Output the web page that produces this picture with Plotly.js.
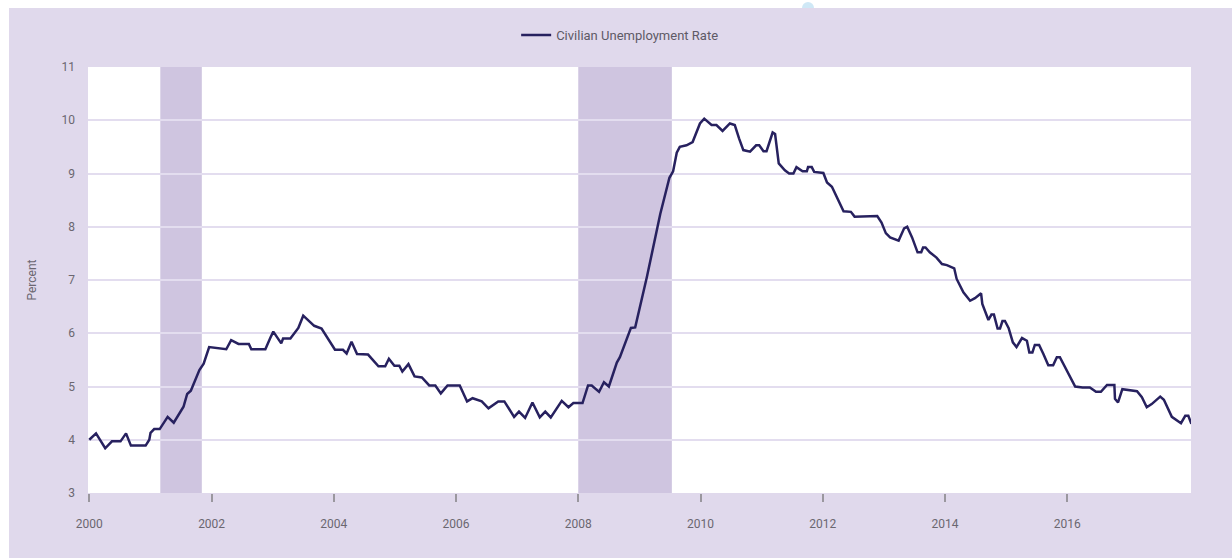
<!DOCTYPE html>
<html>
<head>
<meta charset="utf-8">
<script src="https://cdn.plot.ly/plotly-3.0.1.min.js"></script>
<style>
  html, body { margin: 0; padding: 0; background: #ffffff; width: 1232px; height: 558px; overflow: hidden; }
  #dot { position: absolute; left: 802px; top: 2px; width: 12px; height: 12px; border-radius: 50%; background: #cfe8f6; z-index: 0; }
  #chart { position: absolute; left: 9px; top: 8px; width: 1223px; height: 550px; z-index: 1; }
</style>
</head>
<body>
<div id="dot"></div>
<div id="chart"></div>
<script>
// Decimal-year positions of the line vertices
const years = [
  2000.00, 2000.11, 2000.26, 2000.37, 2000.51, 2000.60, 2000.68, 2000.92, 2000.98, 2001.00,
  2001.06, 2001.15, 2001.28, 2001.38, 2001.54, 2001.60, 2001.66, 2001.80, 2001.87, 2001.96,
  2002.24, 2002.32, 2002.44, 2002.61, 2002.65, 2002.88, 2002.96, 2003.01, 2003.14, 2003.17,
  2003.29, 2003.42, 2003.50, 2003.68, 2003.80, 2004.02, 2004.15, 2004.21, 2004.29, 2004.38,
  2004.56, 2004.73, 2004.84, 2004.90, 2004.99, 2005.07, 2005.12, 2005.22, 2005.32, 2005.44,
  2005.56, 2005.66, 2005.75, 2005.86, 2006.06, 2006.18, 2006.27, 2006.42, 2006.53, 2006.69,
  2006.79, 2006.95, 2007.03, 2007.13, 2007.25, 2007.37, 2007.46, 2007.55, 2007.73, 2007.84,
  2007.92, 2008.07, 2008.16, 2008.22, 2008.34, 2008.42, 2008.50, 2008.63, 2008.68, 2008.86,
  2008.93, 2009.12, 2009.34, 2009.49, 2009.55, 2009.61, 2009.66, 2009.77, 2009.87, 2009.99,
  2010.06, 2010.18, 2010.26, 2010.36, 2010.48, 2010.56, 2010.63, 2010.70, 2010.81, 2010.91,
  2010.96, 2011.03, 2011.08, 2011.18, 2011.22, 2011.28, 2011.38, 2011.45, 2011.52, 2011.57,
  2011.67, 2011.74, 2011.76, 2011.82, 2011.86, 2012.01, 2012.07, 2012.15, 2012.34, 2012.46,
  2012.52, 2012.61, 2012.89, 2012.96, 2013.03, 2013.10, 2013.24, 2013.33, 2013.38, 2013.46,
  2013.55, 2013.61, 2013.64, 2013.68, 2013.75, 2013.86, 2013.95, 2014.03, 2014.15, 2014.19,
  2014.30, 2014.41, 2014.49, 2014.59, 2014.61, 2014.71, 2014.76, 2014.80, 2014.86, 2014.90,
  2014.94, 2014.98, 2015.04, 2015.11, 2015.17, 2015.26, 2015.34, 2015.38, 2015.43, 2015.47,
  2015.54, 2015.61, 2015.69, 2015.77, 2015.83, 2015.88, 2016.02, 2016.13, 2016.25, 2016.37,
  2016.47, 2016.55, 2016.65, 2016.77, 2016.78, 2016.83, 2016.90, 2017.01, 2017.14, 2017.22,
  2017.30, 2017.38, 2017.52, 2017.58, 2017.71, 2017.86, 2017.93, 2017.98, 2018.03
];
// Civilian unemployment rate, percent
const rates = [
  4.00, 4.12, 3.84, 3.97, 3.97, 4.12, 3.89, 3.89, 4.00, 4.13,
  4.20, 4.20, 4.43, 4.32, 4.62, 4.86, 4.92, 5.31, 5.43, 5.74,
  5.70, 5.87, 5.80, 5.80, 5.70, 5.70, 5.91, 6.03, 5.81, 5.90,
  5.90, 6.10, 6.33, 6.14, 6.09, 5.69, 5.69, 5.62, 5.84, 5.61,
  5.60, 5.38, 5.38, 5.52, 5.39, 5.39, 5.28, 5.42, 5.19, 5.17,
  5.02, 5.02, 4.87, 5.02, 5.02, 4.72, 4.78, 4.72, 4.59, 4.72,
  4.72, 4.43, 4.53, 4.41, 4.70, 4.42, 4.53, 4.42, 4.73, 4.61,
  4.69, 4.69, 5.02, 5.02, 4.90, 5.08, 5.00, 5.45, 5.55, 6.10,
  6.11, 7.05, 8.24, 8.92, 9.04, 9.39, 9.50, 9.53, 9.59, 9.94,
  10.03, 9.91, 9.91, 9.80, 9.94, 9.91, 9.66, 9.44, 9.41, 9.53,
  9.53, 9.42, 9.42, 9.77, 9.74, 9.19, 9.06, 9.00, 9.00, 9.12,
  9.04, 9.04, 9.12, 9.12, 9.03, 9.01, 8.83, 8.75, 8.29, 8.28,
  8.19, 8.19, 8.20, 8.08, 7.88, 7.80, 7.74, 7.97, 8.00, 7.80,
  7.52, 7.52, 7.61, 7.61, 7.52, 7.42, 7.30, 7.28, 7.22, 7.02,
  6.77, 6.61, 6.66, 6.75, 6.55, 6.25, 6.35, 6.35, 6.09, 6.09,
  6.23, 6.23, 6.10, 5.83, 5.74, 5.91, 5.86, 5.64, 5.64, 5.78,
  5.78, 5.61, 5.40, 5.40, 5.55, 5.55, 5.23, 5.00, 4.98, 4.98,
  4.90, 4.90, 5.03, 5.03, 4.77, 4.70, 4.95, 4.93, 4.91, 4.80,
  4.61, 4.67, 4.81, 4.75, 4.43, 4.31, 4.45, 4.45, 4.30
];
// Recession periods (decimal years)
const recessionStarts = [2001.16, 2008.00];
const recessionEnds = [2001.84, 2009.53];
const xRangeYears = [1999.979, 2018.024];
const xTickYears = [2000, 2002, 2004, 2006, 2008, 2010, 2012, 2014, 2016];
const yTicks = [3, 4, 5, 6, 7, 8, 9, 10, 11];
const seriesName = 'Civilian Unemployment Rate';

function toDate(t) {
  const y = Math.floor(t);
  const a = Date.UTC(y, 0, 1), b = Date.UTC(y + 1, 0, 1);
  const d = new Date(a + (t - y) * (b - a));
  return d.toISOString().slice(0, 19).replace('T', ' ');
}

const trace = {
  x: years.map(toDate),
  y: rates,
  type: 'scatter',
  mode: 'lines',
  name: seriesName,
  line: { color: '#27215f', width: 2.5 },
  hoverinfo: 'skip'
};

const shapes = recessionStarts.map((s, i) => ({
  type: 'rect', xref: 'x', yref: 'paper',
  x0: toDate(s), x1: toDate(recessionEnds[i]), y0: 0, y1: 1,
  fillcolor: '#cfc5e0', line: { width: 0 }, layer: 'below'
}));

const font = { family: 'Roboto, "Open Sans", sans-serif', size: 12, color: '#6b6770' };

const layout = {
  width: 1223, height: 550,
  paper_bgcolor: '#e0d9ec',
  plot_bgcolor: '#ffffff',
  margin: { l: 79, r: 41, t: 59, b: 65 },
  font: font,
  showlegend: true,
  legend: {
    orientation: 'h', x: 0.482, xanchor: 'center', y: 1.075, yanchor: 'middle',
    bgcolor: 'rgba(0,0,0,0)', font: { family: font.family, size: 13, color: '#5e5a66' }
  },
  xaxis: {
    type: 'date',
    range: xRangeYears.map(toDate),
    tickvals: xTickYears.map(toDate),
    ticktext: xTickYears.map(String),
    showgrid: false,
    zeroline: false,
    showline: false,
    ticks: 'outside', ticklen: 8, tickwidth: 2, tickcolor: '#9a979e',
    ticklabelstandoff: 12,
    tickfont: { family: font.family, size: 12, color: '#6b6770' }
  },
  yaxis: {
    range: [3, 11],
    tickvals: yTicks,
    ticktext: yTicks.map(String),
    showgrid: true, gridcolor: '#e3ddef', gridwidth: 2,
    zeroline: false, showline: false,
    ticks: '', ticklabelstandoff: 12,
    tickfont: { family: font.family, size: 12, color: '#6b6770' },
    title: { text: 'Percent', standoff: 22, font: { family: font.family, size: 12, color: '#6b6770' } }
  },
  shapes: shapes
};

Plotly.newPlot('chart', [trace], layout, { staticPlot: true, displayModeBar: false });
</script>
</body>
</html>
